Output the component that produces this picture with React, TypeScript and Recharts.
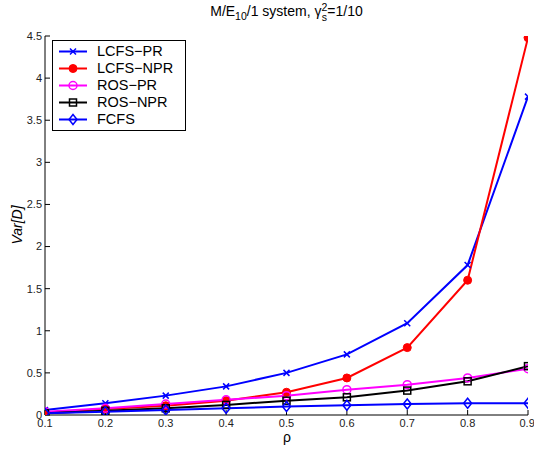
import { LineChart, Line, XAxis, YAxis, Legend } from 'recharts'

const rho = [0.1, 0.2, 0.3, 0.4, 0.5, 0.6, 0.7, 0.8, 0.9]
const lcfsPr = [0.06, 0.14, 0.23, 0.34, 0.5, 0.72, 1.09, 1.78, 3.78]
const lcfsNpr = [0.03, 0.07, 0.11, 0.17, 0.27, 0.44, 0.8, 1.6, 4.48]
const rosPr = [0.04, 0.08, 0.13, 0.18, 0.23, 0.3, 0.36, 0.44, 0.55]
const rosNpr = [0.02, 0.05, 0.08, 0.12, 0.17, 0.21, 0.29, 0.4, 0.58]
const fcfs = [0.02, 0.04, 0.06, 0.08, 0.1, 0.115, 0.13, 0.14, 0.14]

const yTicks = [0, 0.5, 1, 1.5, 2, 2.5, 3, 3.5, 4, 4.5]

const SERIES = [
  { key: 'lcfsPr', name: 'LCFS\u2212PR', color: '#0000ff', shape: 'x' },
  { key: 'lcfsNpr', name: 'LCFS\u2212NPR', color: '#ff0000', shape: 'dot' },
  { key: 'rosPr', name: 'ROS\u2212PR', color: '#ff00ff', shape: 'circle' },
  { key: 'rosNpr', name: 'ROS\u2212NPR', color: '#000000', shape: 'square' },
  { key: 'fcfs', name: 'FCFS', color: '#0000ff', shape: 'diamond' },
]

const data = rho.map((r, i) => ({
  rho: r,
  lcfsPr: lcfsPr[i],
  lcfsNpr: lcfsNpr[i],
  rosPr: rosPr[i],
  rosNpr: rosNpr[i],
  fcfs: fcfs[i],
}))

const FONT = '"Liberation Sans", Arial, Helvetica, sans-serif'

function Marker({ cx, cy, shape, color }: { cx: number; cy: number; shape: string; color: string }) {
  if (cx == null || cy == null) return null
  switch (shape) {
    case 'x':
      return (
        <g stroke={color} strokeWidth={1.5}>
          <line x1={cx - 3} y1={cy - 3} x2={cx + 3} y2={cy + 3} />
          <line x1={cx - 3} y1={cy + 3} x2={cx + 3} y2={cy - 3} />
        </g>
      )
    case 'dot':
      return <circle cx={cx} cy={cy} r={4} fill={color} stroke={color} />
    case 'circle':
      return <circle cx={cx} cy={cy} r={4} fill="none" stroke={color} strokeWidth={1.5} />
    case 'square':
      return <rect x={cx - 3.5} y={cy - 3.5} width={7} height={7} fill="none" stroke={color} strokeWidth={1.5} />
    case 'diamond':
      return (
        <polygon
          points={`${cx},${cy - 5} ${cx + 4},${cy} ${cx},${cy + 5} ${cx - 4},${cy}`}
          fill="none" stroke={color} strokeWidth={1.5}
        />
      )
  }
  return null
}

function LegendBox() {
  return (
    <div style={{ border: '1px solid #000', background: '#fff', padding: '2px 12px 2px 5px', fontFamily: FONT, fontSize: 14.5, color: '#000' }}>
      {SERIES.map(s => (
        <div key={s.key} style={{ display: 'flex', alignItems: 'center', height: 17 }}>
          <svg width={34} height={17} style={{ marginRight: 5 }}>
            <line x1={1} y1={8.5} x2={29} y2={8.5} stroke={s.color} strokeWidth={2} />
            <Marker cx={15} cy={8.5} shape={s.shape} color={s.color} />
          </svg>
          <span style={{ lineHeight: '17px' }}>{s.name}</span>
        </div>
      ))}
    </div>
  )
}

const tickStyle = { fontSize: 11, fill: '#222', fontFamily: FONT }

export default function App() {
  return (
    <div style={{ position: 'absolute', left: 0, top: 0, width: 534, height: 452, background: '#fff', fontFamily: FONT }}>
      <div style={{ position: 'absolute', top: 2, left: 45, width: 483, textAlign: 'center', fontSize: 14, color: '#000' }}>
        M/E<sub style={{ fontSize: 10.5 }}>10</sub>/1 system, γ
        <span style={{ display: 'inline-flex', flexDirection: 'column', verticalAlign: 'middle', fontSize: 10.5, lineHeight: '10px' }}>
          <span>2</span><span>s</span>
        </span>
        =1/10
      </div>
      <div style={{ position: 'absolute', left: 17, top: 225, transform: 'translate(-50%, -50%) rotate(-90deg)', fontSize: 14, fontStyle: 'italic', color: '#000', whiteSpace: 'nowrap' }}>
        Var[D]
      </div>
      <div style={{ position: 'absolute', left: 287, top: 437, transform: 'translate(-50%, -50%)', fontSize: 14, color: '#000' }}>
        ρ
      </div>
      <LineChart width={534} height={452} data={data} margin={{ top: 36, right: 6, left: 0, bottom: 15 }}>
        <XAxis dataKey="rho" type="number" domain={[0.1, 0.9]} ticks={rho} allowDataOverflow
          tickFormatter={v => String(v)} tick={tickStyle} tickSize={-5} tickMargin={9}
          height={22} stroke="#000" />
        <XAxis xAxisId="top" orientation="top" dataKey="rho" type="number" domain={[0.1, 0.9]} ticks={rho}
          allowDataOverflow tick={false} tickSize={-5} height={0} stroke="#000" />
        <YAxis type="number" domain={[0, 4.5]} ticks={yTicks} allowDataOverflow
          tickFormatter={v => String(v)} tick={tickStyle} tickSize={-5} tickMargin={8}
          width={45} stroke="#000" />
        <YAxis yAxisId="right" orientation="right" type="number" domain={[0, 4.5]} ticks={yTicks}
          allowDataOverflow tick={false} tickSize={-5} width={0} stroke="#000" />
        <Legend layout="vertical" align="center" verticalAlign="middle" content={() => <LegendBox />}
          wrapperStyle={{ top: 40, left: 52, width: 'auto' }} />
        {SERIES.map(s => (
          <Line key={s.key} dataKey={s.key} name={s.name} stroke={s.color} strokeWidth={2}
            isAnimationActive={false}
            dot={(p: any) => <Marker key={`${s.key}-${p.index}`} cx={p.cx} cy={p.cy} shape={s.shape} color={s.color} />} />
        ))}
      </LineChart>
    </div>
  )
}
